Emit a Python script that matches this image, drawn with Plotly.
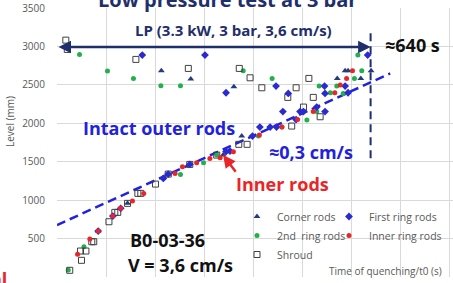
import plotly.graph_objects as go

# ---------------- data (time of quenching s, level mm) ----------------
corner_t = [84, 144, 227, 339, 377, 213, 273, 361, 588, 594, 641, 572, 620]
corner_L = [598, 958, 1339, 1586, 1834, 2683, 2575, 2475, 2683, 2683, 2683, 2584, 2584]

first_t = [84, 114, 130, 217, 227, 271, 345, 353, 399, 414, 435, 448, 174, 302, 345,
           447, 472, 461, 496, 503, 530, 546, 547, 488, 547, 588, 594, 634]
first_L = [598, 793, 893, 1283, 1339, 1465, 1632, 1638, 1834, 1951, 1951, 1951, 2887, 2887, 2397,
           2484, 2389, 2152, 2152, 2152, 2211, 2484, 2389, 2048, 2152, 2484, 2397, 2887]

second_t = [23, 55, 218, 252, 299, 326, 411, 459, 510, 530, 46, 103, 156, 212, 252,
            380, 439, 535, 558, 584, 571, 607, 614, 622]
second_L = [91, 394, 1291, 1335, 1486, 1586, 1834, 1951, 2042, 2152, 2896, 2679, 2584, 2488, 2488,
            2683, 2584, 2484, 2397, 2389, 2484, 2584, 2887, 2683]

inner_t = [42, 67, 84, 114, 130, 154, 177, 241, 256, 285, 312, 333, 360, 413, 459,
           491, 523, 567, 578, 591, 603]
inner_L = [295, 494, 598, 793, 893, 988, 1088, 1348, 1434, 1486, 1543, 1552, 1630, 1847, 1951,
           2048, 2152, 2397, 2497, 2584, 2683]

shroud_t = [18, 21, 26, 48, 50, 59, 71, 75, 106, 118, 124, 144, 165, 171, 201, 227, 271, 326,
            371, 388, 479, 503, 537, 161, 268, 372, 394, 418, 488, 514, 471, 523]
shroud_L = [3082, 2961, 87, 338, 217, 338, 459, 459, 719, 841, 841, 958, 1088, 1088, 1209, 1339, 1465, 1586,
            1726, 1726, 1964, 2211, 2085, 2831, 2714, 2714, 2592, 2462, 2462, 2584, 2337, 2337]

fit_t = [0, 680]
fit_L = [676, 2648]

end_t = [640, 640]
end_L = [3170, 1500]

span_t = [0, 640]
span_L = 2991

inner_arrow_from = (367, 1349)
inner_arrow_to = (339, 1586)

# ---------------- layout helpers ----------------
W, H = 453, 283
L_M, R_M, T_M, B_M = 57, 0, 8, 6
PW, PH = W - L_M - R_M, H - T_M - B_M


def xp(px):
    return (px - L_M) / PW


def yp(py):
    return (H - B_M - py) / PH


FONT = "Open Sans"
GRAY = "#595959"
NAVY = "#1f2f6b"
BLUE = "#2222dd"
RED = "#e8262a"

fig = go.Figure()

fig.add_trace(go.Scatter(x=fit_t, y=fit_L, mode="lines", showlegend=False,
                         line=dict(color=BLUE, width=2.5, dash="9px,5px"), hoverinfo="skip"))
fig.add_trace(go.Scatter(x=end_t, y=end_L, mode="lines", showlegend=False,
                         line=dict(color=NAVY, width=2, dash="8px,5px"), hoverinfo="skip"))

fig.add_trace(go.Scatter(x=corner_t, y=corner_L, mode="markers", name="Corner rods",
                         marker=dict(symbol="triangle-up", size=6, color="#233d7a"), legend="legend"))
fig.add_trace(go.Scatter(x=second_t, y=second_L, mode="markers", name="2nd  ring rods",
                         marker=dict(symbol="circle", size=5, color="#22b04b"), legend="legend"))
fig.add_trace(go.Scatter(x=shroud_t, y=shroud_L, mode="markers", name="Shroud",
                         marker=dict(symbol="square-open", size=6, color="#404040",
                                     line=dict(width=1, color="#404040")), legend="legend"))
fig.add_trace(go.Scatter(x=first_t, y=first_L, mode="markers", name="First ring rods",
                         marker=dict(symbol="diamond", size=6, color="#2a2ad0"), legend="legend2"))
fig.add_trace(go.Scatter(x=inner_t, y=inner_L, mode="markers", name="Inner ring rods",
                         marker=dict(symbol="circle", size=5, color=RED), legend="legend2"))

ann = []


def txt(text, cx, cy, size, color, bold=True, **kw):
    ann.append(dict(text=f"<b>{text}</b>" if bold else text, x=xp(cx), y=yp(cy),
                    xref="paper", yref="paper", showarrow=False,
                    xanchor=kw.pop("xanchor", "center"), yanchor="middle",
                    font=dict(family=FONT, size=size, color=color), **kw))


txt("Low pressure test at 3 bar", 227, 0, 20, NAVY)
txt("LP (3.3 kW, 3 bar, 3,6 cm/s)", 233, 30, 15, NAVY)
txt("≈640 s", 412, 45, 18, "#111111")
txt("Intact outer rods", 159, 128, 18, BLUE)
txt("≈0,3 cm/s", 311, 152, 18, BLUE)
txt("Inner rods", 282, 184, 18, RED)
txt("B0-03-36", 167, 240, 18, "#111111")
txt("V = 3,6 cm/s", 180, 265, 18, "#111111")
txt("al", 9, 279, 18, RED, xanchor="right")
txt("Time of quenching/t0 (s)", 385, 271, 10, GRAY, bold=False)
txt("Level (mm)", 10, 122, 10, GRAY, bold=False, textangle=-90)

# horizontal double arrow
ann.append(dict(x=span_t[1], y=span_L, ax=span_t[0], ay=span_L, xref="x", yref="y",
                axref="x", ayref="y", text="", showarrow=True, arrowside="end+start",
                arrowhead=2, arrowsize=1, arrowwidth=2.5, arrowcolor=NAVY, standoff=0, startstandoff=0))
# red arrow to inner rods
ann.append(dict(x=inner_arrow_to[0], y=inner_arrow_to[1], ax=inner_arrow_from[0], ay=inner_arrow_from[1],
                xref="x", yref="y", axref="x", ayref="y", text="", showarrow=True,
                arrowhead=2, arrowsize=1, arrowwidth=2.5, arrowcolor=RED, standoff=0))

leg_font = dict(family=FONT, size=10.5, color=GRAY)
fig.update_layout(
    width=W, height=H,
    margin=dict(l=L_M, r=R_M, t=T_M, b=B_M),
    paper_bgcolor="white", plot_bgcolor="white",
    showlegend=True,
    legend=dict(x=xp(237), y=yp(202), xanchor="left", yanchor="top", bgcolor="rgba(0,0,0,0)",
                font=leg_font, borderwidth=0),
    legend2=dict(x=xp(329), y=yp(202), xanchor="left", yanchor="top", bgcolor="rgba(0,0,0,0)",
                 font=leg_font, borderwidth=0),
    annotations=ann,
    xaxis=dict(range=[0, PW / 0.49], dtick=100, tick0=0, showticklabels=False, showgrid=True,
               gridcolor="#d9d9d9", gridwidth=1, zeroline=False, showline=False, ticks=""),
    yaxis=dict(range=[0, 3500], dtick=500, showgrid=True, gridcolor="#d9d9d9", gridwidth=1,
               zeroline=False, showline=False, ticks="outside", ticklen=9,
               tickcolor="rgba(0,0,0,0)",
               tickfont=dict(family=FONT, size=10, color=GRAY)),
)

fig.write_html("out.html", config={"displayModeBar": False},
               post_script="document.body.style.margin='0px';")
